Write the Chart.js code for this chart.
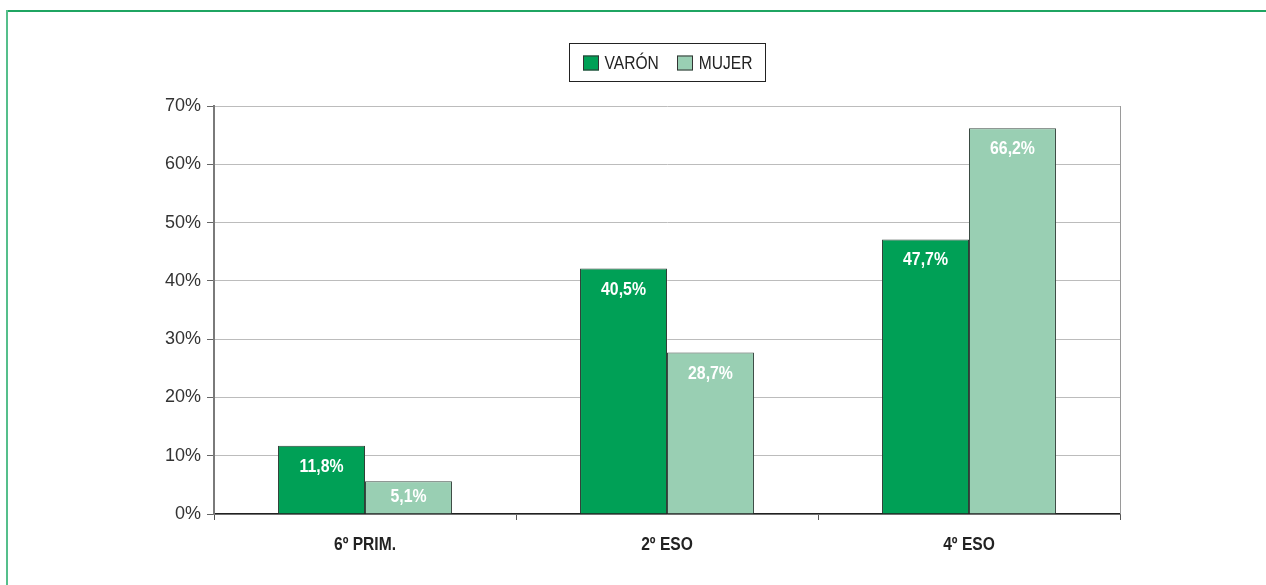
<!DOCTYPE html>
<html>
<head>
<meta charset="utf-8">
<script src="https://cdn.jsdelivr.net/npm/chart.js@4/dist/chart.umd.min.js"></script>
<style>
  html, body { margin: 0; padding: 0; background: #fff; }
  #wrap { width: 1266px; height: 585px; position: relative; }
</style>
</head>
<body>
<div id="wrap"><canvas id="chart" width="1266" height="585"></canvas></div>
<script>
// ── Data ──
const categories = ['6º PRIM.', '2º ESO', '4º ESO'];
const seriesNames = ['VARÓN', 'MUJER'];
const varonValues = [11.7, 42.1, 47.1];
const mujerValues = [5.6, 27.7, 66.2];
const varonLabels = ['11,8%', '40,5%', '47,7%'];
const mujerLabels = ['5,1%', '28,7%', '66,2%'];
const yTicks = [0, 10, 20, 30, 40, 50, 60, 70];

const COLORS = ['#00a056', '#99cfb3'];
const FONT = '"Liberation Sans", Arial, sans-serif';

// no narrow font installed, so squeeze the text horizontally
function drawCondensed(c, text, x, y, font, sx, align) {
  c.save();
  c.font = font;
  c.textBaseline = 'middle';
  c.textAlign = 'left';
  const w = c.measureText(text).width * sx;
  let left = x;
  if (align === 'center') left = x - w / 2;
  c.translate(left, y);
  c.scale(sx, 1);
  c.fillText(text, 0, 0);
  c.restore();
  return w;
}

// ── Outer green frame + right plot edge ──
const framePlugin = {
  id: 'frame',
  beforeDraw(chart) {
    const c = chart.ctx;
    c.save();
    c.fillStyle = '#fff';
    c.fillRect(0, 0, chart.width, chart.height);
    c.lineWidth = 2;
    c.strokeStyle = '#1fa562';
    c.beginPath(); c.moveTo(6, 11); c.lineTo(chart.width, 11); c.stroke();
    c.strokeStyle = '#55bf8b';
    c.beginPath(); c.moveTo(7, 10); c.lineTo(7, chart.height); c.stroke();
    c.restore();
  },
  beforeDatasetsDraw(chart) {
    const c = chart.ctx;
    const a = chart.chartArea;
    c.save();
    c.strokeStyle = '#9a9a9a';
    c.lineWidth = 1;
    c.beginPath(); c.moveTo(a.right + 0.5, a.top); c.lineTo(a.right + 0.5, a.bottom); c.stroke();
    c.restore();
  }
};

// ── Value labels inside the bars, category labels under the axis ──
const labelPlugin = {
  id: 'labels',
  afterDatasetsDraw(chart) {
    const c = chart.ctx;
    const allLabels = [varonLabels, mujerLabels];
    c.save();
    c.fillStyle = '#fff';
    chart.data.datasets.forEach((ds, di) => {
      chart.getDatasetMeta(di).data.forEach((bar, i) => {
        const y = Math.min(bar.y + 21, bar.base - 16);
        drawCondensed(c, allLabels[di][i], bar.x, y, 'bold 18px ' + FONT, 0.88, 'center');
      });
    });
    const xs = chart.scales.x;
    c.fillStyle = '#222';
    categories.forEach((cat, i) => {
      drawCondensed(c, cat, xs.getPixelForTick(i), 545, 'bold 19px ' + FONT, 0.82, 'center');
    });
    c.restore();
  }
};

// ── Boxed legend above the plot ──
const legendPlugin = {
  id: 'boxLegend',
  afterDraw(chart) {
    const c = chart.ctx;
    const area = chart.chartArea;
    const font = '19px ' + FONT, sx = 0.82;
    c.save();
    c.font = font;
    const sq = 16, gap = 6, itemGap = 18, padX = 13;
    const widths = seriesNames.map(n => c.measureText(n).width * sx);
    const inner = widths.reduce((s, w) => s + sq + gap + w, 0) + itemGap * (seriesNames.length - 1);
    const boxW = Math.round(inner + padX * 2), boxH = 38;
    const cx = (area.left + area.right) / 2;
    const left = Math.round(cx - boxW / 2) + 0.5, top = 43.5;
    c.lineWidth = 1;
    c.strokeStyle = '#222';
    c.strokeRect(left, top, boxW, boxH);
    let x = left + padX;
    const midY = top + boxH / 2 + 1;
    seriesNames.forEach((n, i) => {
      c.fillStyle = COLORS[i];
      c.fillRect(Math.round(x), midY - 8, sq, 15);
      c.strokeStyle = '#333';
      c.strokeRect(Math.round(x) + 0.5, midY - 7.5, sq - 1, 14);
      x += sq + gap;
      c.fillStyle = '#222';
      drawCondensed(c, n, x, midY, font, sx, 'left');
      x += widths[i] + itemGap;
    });
    c.restore();
  }
};

new Chart(document.getElementById('chart'), {
  type: 'bar',
  data: {
    labels: categories,
    datasets: [
      { label: seriesNames[0], data: varonValues, backgroundColor: COLORS[0], borderColor: '#2f3f37', borderWidth: 1 },
      { label: seriesNames[1], data: mujerValues, backgroundColor: COLORS[1], borderColor: '#3a4a42', borderWidth: 1 }
    ]
  },
  plugins: [framePlugin, labelPlugin, legendPlugin],
  options: {
    responsive: false,
    animation: false,
    devicePixelRatio: 1,
    layout: { padding: { top: 106, left: 0, right: 146, bottom: 0 } },
    datasets: { bar: { barPercentage: 1, categoryPercentage: 0.576 } },
    plugins: { legend: { display: false }, tooltip: { enabled: false } },
    scales: {
      x: {
        afterFit: s => { s.height = 71; },
        border: { color: '#222', width: 1.5 },
        grid: {
          offset: true,
          drawOnChartArea: false,
          tickColor: '#555',
          tickLength: 6
        },
        ticks: { display: false }
      },
      y: {
        min: yTicks[0],
        max: yTicks[yTicks.length - 1],
        afterFit: s => { s.width = 214; },
        afterBuildTicks: s => { s.ticks = yTicks.map(v => ({ value: v })); },
        border: { color: '#7a7a7a', width: 2 },
        grid: { color: '#bcbcbc', tickColor: '#666', tickLength: 7, lineWidth: 1 },
        ticks: { padding: 6, color: '#333', font: { family: FONT, size: 18 }, callback: v => v + '%' }
      }
    }
  }
});
</script>
</body>
</html>
